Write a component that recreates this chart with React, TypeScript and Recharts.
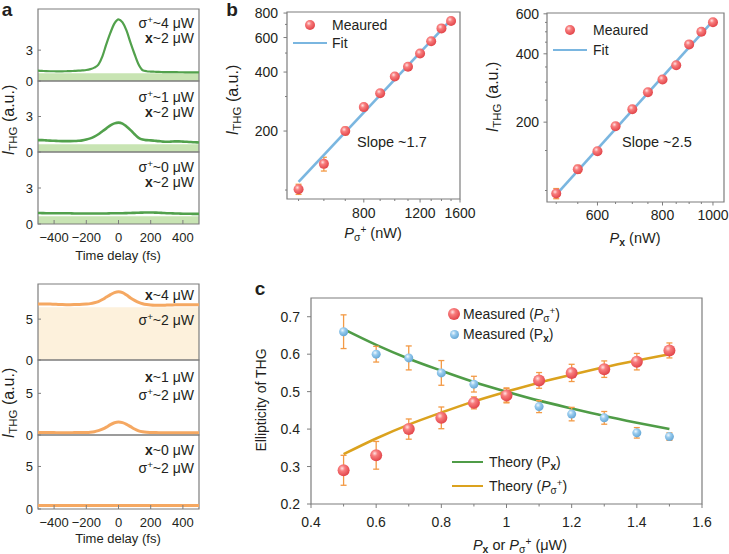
import React from 'react';
import { ComposedChart, LineChart, Line, Scatter, XAxis, YAxis, ReferenceArea, ErrorBar } from 'recharts';

const FONT = '"Liberation Sans", Arial, Helvetica, sans-serif';
const FRAME = '#7d7d7d';
const INK = '#231f20';
const GREEN = '#52a14c';
const GREEN_BAND = '#c8e4b3';
const ORANGE = '#f5a862';
const ORANGE_FILL = '#fdf1dc';
const FIT = '#7ab6e0';
const ERR = '#f39a45';
const TH_GREEN = '#4f9c47';
const TH_ORANGE = '#dba21e';

// ---- panel a: pump-probe traces ----
const timeDelay = [
  -500, -475, -450, -425, -400, -375, -350, -325, -300, -275, -250, -225, -200, -175, -150, -125, -100, -75, -50, -25,
  0, 25, 50, 75, 100, 125, 150, 175, 200, 225, 250, 275, 300, 325, 350, 375, 400, 425, 450, 475, 500,
];
const timeTicks = [-400, -200, 0, 200, 400];

// green: x ~2 uW, sigma+ varied
const traceSigma4 = [
  1.0, 0.98, 0.96, 0.95, 0.95, 0.94, 0.94, 0.95, 0.96, 0.98, 1.0, 1.03, 1.07, 1.15, 1.3, 1.6, 2.4, 3.6, 4.7, 5.6,
  6.0, 5.7, 4.9, 3.7, 2.6, 1.6, 1.05, 0.95, 0.92, 0.9, 0.88, 0.87, 0.86, 0.86, 0.86, 0.85, 0.85, 0.84, 0.84, 0.83, 0.83,
];
const traceSigma1 = [
  1.0, 1.0, 0.98, 0.96, 0.95, 0.93, 0.92, 0.92, 0.92, 0.93, 0.95, 0.98, 1.05, 1.15, 1.3, 1.5, 1.75, 2.0, 2.25, 2.42,
  2.48, 2.4, 2.15, 1.85, 1.5, 1.2, 1.05, 1.0, 0.98, 0.95, 0.92, 0.88, 0.86, 0.88, 0.9, 0.9, 0.88, 0.86, 0.84, 0.82, 0.8,
];
const traceSigma0 = [
  0.92, 0.91, 0.9, 0.9, 0.89, 0.89, 0.9, 0.9, 0.89, 0.88, 0.88, 0.88, 0.88, 0.87, 0.87, 0.88, 0.88, 0.88, 0.89, 0.9,
  0.9, 0.9, 0.91, 0.92, 0.93, 0.94, 0.95, 0.96, 0.96, 0.95, 0.94, 0.92, 0.9, 0.89, 0.88, 0.87, 0.86, 0.86, 0.85, 0.84, 0.84,
];
const greenBandTop = [0.75, 0.65, 0.65];

// orange: sigma+ ~2 uW, x varied
const traceX4 = [
  6.85, 6.85, 6.85, 6.84, 6.82, 6.8, 6.78, 6.77, 6.77, 6.78, 6.8, 6.82, 6.85, 6.9, 7.0, 7.15, 7.4, 7.7, 8.0, 8.25,
  8.35, 8.25, 7.95, 7.6, 7.3, 7.05, 6.88, 6.78, 6.72, 6.7, 6.7, 6.7, 6.72, 6.73, 6.75, 6.75, 6.75, 6.75, 6.75, 6.75, 6.75,
];
const traceX1 = [
  0.3, 0.3, 0.3, 0.29, 0.29, 0.28, 0.28, 0.28, 0.28, 0.29, 0.29, 0.3, 0.31, 0.34, 0.4, 0.52, 0.7, 0.95, 1.25, 1.47,
  1.55, 1.48, 1.28, 1.0, 0.72, 0.5, 0.38, 0.32, 0.3, 0.29, 0.28, 0.28, 0.28, 0.28, 0.28, 0.28, 0.28, 0.28, 0.28, 0.28, 0.28,
];
const traceX0 = [
  0.42, 0.42, 0.42, 0.42, 0.42, 0.41, 0.41, 0.41, 0.41, 0.41, 0.41, 0.41, 0.41, 0.41, 0.41, 0.42, 0.42, 0.42, 0.42, 0.42,
  0.42, 0.42, 0.42, 0.42, 0.42, 0.42, 0.41, 0.41, 0.41, 0.41, 0.41, 0.41, 0.41, 0.41, 0.41, 0.41, 0.41, 0.41, 0.41, 0.41, 0.41,
];
const orangeFillTop = 6.45;

// ---- panel b: power dependence ----
const powerSigma = [500, 600, 700, 800, 900, 1000, 1100, 1200, 1300, 1400, 1500];
const thgSigma = [101, 136, 200, 265, 312, 380, 426, 497, 574, 668, 728];
const thgSigmaErr = [6, 11, 9, 6, 6, 8, 8, 10, 10, 12, 12];
const fitSigmaX = [500, 1500];
const fitSigmaY = [110, 741];

const powerX = [500, 550, 600, 650, 700, 750, 800, 850, 900, 950, 1000];
const thgX = [97, 124, 149, 192, 228, 271, 308, 356, 440, 500, 551];
const thgXErr = [5, 5, 4, 6, 5, 5, 5, 6, 7, 8, 8];
const fitXX = [500, 1000];
const fitXY = [96, 558];

// ---- panel c: ellipticity ----
const ratio = [0.5, 0.6, 0.7, 0.8, 0.9, 1.0, 1.1, 1.2, 1.3, 1.4, 1.5];
const ellSigma = [0.29, 0.33, 0.4, 0.43, 0.47, 0.49, 0.53, 0.55, 0.56, 0.58, 0.61];
const ellSigmaErr = [0.04, 0.037, 0.027, 0.029, 0.016, 0.02, 0.021, 0.023, 0.022, 0.022, 0.02];
const ellX = [0.66, 0.6, 0.59, 0.55, 0.52, 0.49, 0.46, 0.44, 0.43, 0.39, 0.38];
const ellXErr = [0.045, 0.021, 0.032, 0.033, 0.021, 0.018, 0.016, 0.018, 0.017, 0.014, 0.01];
const theoryX = [0.667, 0.625, 0.588, 0.556, 0.526, 0.5, 0.476, 0.455, 0.435, 0.417, 0.4];
const theorySigma = [0.333, 0.375, 0.412, 0.444, 0.474, 0.5, 0.524, 0.545, 0.565, 0.583, 0.6];

const zip = (xs: number[], ys: number[], es?: number[]) =>
  xs.map((x, i) => (es ? { x, y: ys[i], e: es[i] } : { x, y: ys[i] }));

const isIn = (arr: number[], v: number) => arr.some((a) => Math.abs(a - v) < 1e-9);
const fmt = (v: number) => (v < 0 ? '\u2212' + Math.abs(v) : String(v));

type TickCfg = { labels: number[]; major: number; minor: number; inward?: boolean; size: number; off: number; show?: boolean };

const xTick = (c: TickCfg) => (props: any) => {
  const { x, y, payload } = props;
  const v = payload.value;
  const lab = isIn(c.labels, v);
  const len = lab ? c.major : c.minor;
  const d = c.inward ? -1 : 1;
  return (
    <g>
      {len > 0 && <line x1={x} x2={x} y1={y} y2={y + d * len} stroke={FRAME} strokeWidth={1} />}
      {lab && c.show !== false && (
        <text x={x} y={y + c.off} textAnchor="middle" fontSize={c.size} fontFamily={FONT} fill={INK}>
          {fmt(v)}
        </text>
      )}
    </g>
  );
};

const yTick = (c: TickCfg) => (props: any) => {
  const { x, y, payload } = props;
  const v = payload.value;
  const lab = isIn(c.labels, v);
  const len = lab ? c.major : c.minor;
  const d = c.inward ? 1 : -1;
  return (
    <g>
      {len > 0 && <line x1={x} x2={x + d * len} y1={y} y2={y} stroke={FRAME} strokeWidth={1} />}
      {lab && (
        <text x={x - c.off} y={y + c.size * 0.36} textAnchor="end" fontSize={c.size} fontFamily={FONT} fill={INK}>
          {fmt(v)}
        </text>
      )}
    </g>
  );
};

const ball = (id: string, r: number) => (props: any) => <circle cx={props.cx} cy={props.cy} r={r} fill={`url(#${id})`} />;

// ---- small html text helpers ----
const SUP: React.CSSProperties = { fontSize: '0.7em', verticalAlign: '0.5em', lineHeight: 0 };
const SUB: React.CSSProperties = { fontSize: '0.72em', verticalAlign: '-0.3em', lineHeight: 0 };

function T(p: { x: number; y: number; a?: 'l' | 'c' | 'r'; r?: number; size?: number; bold?: boolean; children: React.ReactNode }) {
  const tx = p.a === 'l' ? '0' : p.a === 'r' ? '-100%' : '-50%';
  return (
    <div
      style={{
        position: 'absolute',
        left: p.x,
        top: p.y,
        transform: `translate(${tx},-50%)${p.r ? ` rotate(${p.r}deg)` : ''}`,
        fontSize: p.size ?? 14,
        fontWeight: p.bold ? 'bold' : 'normal',
        whiteSpace: 'nowrap',
        lineHeight: 1,
      }}
    >
      {p.children}
    </div>
  );
}

const Ithg = () => (
  <>
    <i>I</i>
    <span style={SUB}>THG</span> (a.u.)
  </>
);
const Psig = () => (
  <>
    <i>P</i>
    <span style={SUB}>σ</span>
    <span style={SUP}>+</span>
  </>
);
const Px = ({ italic }: { italic?: boolean }) => (
  <>
    {italic ? <i>P</i> : 'P'}
    <span style={SUB}>
      <b>x</b>
    </span>
  </>
);

function Ball({ x, y, r, id }: { x: number; y: number; r: number; id: string }) {
  return (
    <svg width={2 * r + 2} height={2 * r + 2} style={{ position: 'absolute', left: x - r - 1, top: y - r - 1 }}>
      <circle cx={r + 1} cy={r + 1} r={r} fill={`url(#${id})`} />
    </svg>
  );
}
function Swatch({ x1, x2, y, color, w = 3 }: { x1: number; x2: number; y: number; color: string; w?: number }) {
  return <div style={{ position: 'absolute', left: x1, top: y - w / 2, width: x2 - x1, height: w, background: color }} />;
}

// ---- panel a cell ----
const A_LEFT = 38;
const A_W = 161;
const A_YW = 38;

function TraceCell(p: {
  top: number;
  bottom: number;
  values: number[];
  yMax: number;
  yLabels: number[];
  color: string;
  width: number;
  fillTop?: number;
  fillColor?: string;
  showX: boolean;
}) {
  const rows = timeDelay.map((t, i) => ({ t, v: p.values[i] }));
  const h = p.bottom - p.top;
  const mt = 8;
  const xh = p.showX ? 26 : 0;
  const mb = p.showX ? 0 : 8;
  return (
    <div style={{ position: 'absolute', left: A_LEFT - A_YW, top: p.top - mt }}>
      <LineChart width={A_YW + A_W + 6} height={mt + h + xh + mb} data={rows} margin={{ top: mt, right: 6, bottom: mb, left: 0 }}>
        <XAxis
          dataKey="t"
          type="number"
          domain={[-500, 500]}
          allowDataOverflow
          ticks={timeTicks}
          interval={0}
          height={xh}
          tickSize={0}
          tickMargin={0}
          axisLine={false}
          tickLine={false}
          tick={xTick({ labels: timeTicks, major: 4, minor: 0, inward: true, size: 13, off: 18, show: p.showX })}
        />
        <YAxis
          type="number"
          domain={[0, p.yMax]}
          allowDataOverflow
          ticks={p.yLabels}
          interval={0}
          width={A_YW}
          tickSize={0}
          tickMargin={0}
          axisLine={false}
          tickLine={false}
          tick={yTick({ labels: p.yLabels, major: 3, minor: 0, inward: true, size: 13, off: 5 })}
        />
        {p.fillTop !== undefined && (
          <ReferenceArea x1={-500} x2={500} y1={0} y2={p.fillTop} fill={p.fillColor} fillOpacity={1} stroke="none" />
        )}
        <Line dataKey="v" type="monotone" stroke={p.color} strokeWidth={p.width} dot={false} isAnimationActive={false} />
        <ReferenceArea x1={-500} x2={500} y1={0} y2={p.yMax} fill="none" stroke={FRAME} strokeWidth={1.2} />
      </LineChart>
    </div>
  );
}

// ---- panel b chart ----
function PowerPanel(p: {
  left: number;
  top: number;
  w: number;
  h: number;
  xDomain: [number, number];
  yDomain: [number, number];
  xTicks: number[];
  xLabels: number[];
  yTicks: number[];
  yLabels: number[];
  points: { x: number; y: number; e?: number }[];
  fit: { x: number; y: number }[];
  yOff: number;
  xOff: number;
}) {
  const YW = 50;
  const XH = 30;
  const MT = 8;
  const MR = 20;
  return (
    <div style={{ position: 'absolute', left: p.left - YW, top: p.top - MT }}>
      <ComposedChart width={YW + p.w + MR} height={MT + p.h + XH} margin={{ top: MT, right: MR, bottom: 0, left: 0 }}>
        <XAxis
          dataKey="x"
          type="number"
          scale="log"
          domain={p.xDomain}
          allowDataOverflow
          ticks={p.xTicks}
          interval={0}
          height={XH}
          tickSize={0}
          tickMargin={0}
          axisLine={false}
          tickLine={false}
          tick={xTick({ labels: p.xLabels, major: 3.5, minor: 2, size: 14, off: p.xOff })}
        />
        <YAxis
          dataKey="y"
          type="number"
          scale="log"
          domain={p.yDomain}
          allowDataOverflow
          ticks={p.yTicks}
          interval={0}
          width={YW}
          tickSize={0}
          tickMargin={0}
          axisLine={false}
          tickLine={false}
          tick={yTick({ labels: p.yLabels, major: 3.5, minor: 2, size: 14, off: p.yOff })}
        />
        <Scatter data={p.points} shape={ball('ballRed', 5)} isAnimationActive={false}>
          <ErrorBar dataKey="e" direction="y" width={3} stroke={ERR} strokeWidth={1.3} isAnimationActive={false} />
        </Scatter>
        <Line data={p.fit} dataKey="y" type="linear" stroke={FIT} strokeWidth={2.6} dot={false} isAnimationActive={false} />
        <ReferenceArea
          x1={p.xDomain[0]}
          x2={p.xDomain[1]}
          y1={p.yDomain[0]}
          y2={p.yDomain[1]}
          fill="none"
          stroke={FRAME}
          strokeWidth={1.2}
        />
      </ComposedChart>
    </div>
  );
}

// ---- panel c chart ----
const C_LEFT = 311;
const C_TOP = 298;
const C_W = 391;
const C_H = 206;
const cXTicks = [0.4, 0.5, 0.6, 0.7, 0.8, 0.9, 1, 1.1, 1.2, 1.3, 1.4, 1.5, 1.6];
const cXLabels = [0.4, 0.6, 0.8, 1, 1.2, 1.4, 1.6];
const cYTicks = [0.2, 0.3, 0.4, 0.5, 0.6, 0.7];

function EllipticityPanel() {
  const YW = 50;
  const XH = 30;
  const MT = 8;
  const MR = 20;
  return (
    <div style={{ position: 'absolute', left: C_LEFT - YW, top: C_TOP - MT }}>
      <ComposedChart width={YW + C_W + MR} height={MT + C_H + XH} margin={{ top: MT, right: MR, bottom: 0, left: 0 }}>
        <XAxis
          dataKey="x"
          type="number"
          domain={[0.4, 1.6]}
          allowDataOverflow
          ticks={cXTicks}
          interval={0}
          height={XH}
          tickSize={0}
          tickMargin={0}
          axisLine={false}
          tickLine={false}
          tick={xTick({ labels: cXLabels, major: 4, minor: 2.5, size: 14, off: 23 })}
        />
        <YAxis
          dataKey="y"
          type="number"
          domain={[0.2, 0.75]}
          allowDataOverflow
          ticks={cYTicks}
          interval={0}
          width={YW}
          tickSize={0}
          tickMargin={0}
          axisLine={false}
          tickLine={false}
          tick={yTick({ labels: cYTicks, major: 4, minor: 2.5, size: 14, off: 11 })}
        />
        <Line data={zip(ratio, theoryX)} dataKey="y" type="monotone" stroke={TH_GREEN} strokeWidth={2.6} dot={false} isAnimationActive={false} />
        <Line data={zip(ratio, theorySigma)} dataKey="y" type="monotone" stroke={TH_ORANGE} strokeWidth={2.6} dot={false} isAnimationActive={false} />
        <Scatter data={zip(ratio, ellX, ellXErr)} shape={ball('ballBlue', 4.5)} isAnimationActive={false}>
          <ErrorBar dataKey="e" direction="y" width={3} stroke={ERR} strokeWidth={1.3} isAnimationActive={false} />
        </Scatter>
        <Scatter data={zip(ratio, ellSigma, ellSigmaErr)} shape={ball('ballRed', 6)} isAnimationActive={false}>
          <ErrorBar dataKey="e" direction="y" width={3} stroke={ERR} strokeWidth={1.3} isAnimationActive={false} />
        </Scatter>
        <ReferenceArea x1={0.4} x2={1.6} y1={0.2} y2={0.75} fill="none" stroke={FRAME} strokeWidth={1.2} />
      </ComposedChart>
    </div>
  );
}

export default function App() {
  const gRows = [9, 81, 152, 224];
  const oRows = [284, 360, 435, 509];
  return (
    <div
      style={{
        position: 'absolute',
        left: 0,
        top: 0,
        width: 729,
        height: 554,
        background: '#fff',
        fontFamily: FONT,
        color: INK,
        overflow: 'hidden',
      }}
    >
      <svg width={0} height={0} style={{ position: 'absolute' }}>
        <defs>
          <radialGradient id="ballRed" cx="38%" cy="34%" r="66%">
            <stop offset="0%" stopColor="#ffe3e3" />
            <stop offset="35%" stopColor="#f87d7d" />
            <stop offset="100%" stopColor="#e2454a" />
          </radialGradient>
          <radialGradient id="ballBlue" cx="38%" cy="34%" r="66%">
            <stop offset="0%" stopColor="#f0f8fe" />
            <stop offset="40%" stopColor="#98cbee" />
            <stop offset="100%" stopColor="#67a8d6" />
          </radialGradient>
        </defs>
      </svg>

      {/* panel a, green */}
      <TraceCell top={gRows[0]} bottom={gRows[1]} values={traceSigma4} yMax={7} yLabels={[0, 3]} color={GREEN} width={2.2} fillTop={greenBandTop[0]} fillColor={GREEN_BAND} showX={false} />
      <TraceCell top={gRows[1]} bottom={gRows[2]} values={traceSigma1} yMax={6} yLabels={[0, 3]} color={GREEN} width={2.6} fillTop={greenBandTop[1]} fillColor={GREEN_BAND} showX={false} />
      <TraceCell top={gRows[2]} bottom={gRows[3]} values={traceSigma0} yMax={6} yLabels={[0, 3]} color={GREEN} width={2.6} fillTop={greenBandTop[2]} fillColor={GREEN_BAND} showX />

      {/* panel a, orange */}
      <TraceCell top={oRows[0]} bottom={oRows[1]} values={traceX4} yMax={9.3} yLabels={[0, 5]} color={ORANGE} width={3} fillTop={orangeFillTop} fillColor={ORANGE_FILL} showX={false} />
      <TraceCell top={oRows[1]} bottom={oRows[2]} values={traceX1} yMax={9} yLabels={[0, 5]} color={ORANGE} width={3} showX={false} />
      <TraceCell top={oRows[2]} bottom={oRows[3]} values={traceX0} yMax={8.7} yLabels={[0, 5]} color={ORANGE} width={3} showX />

      {/* panel b */}
      <PowerPanel
        left={287}
        top={12}
        w={173}
        h={187}
        xDomain={[460, 1600]}
        yDomain={[90, 810]}
        xTicks={[500, 600, 700, 800, 900, 1000, 1100, 1200, 1300, 1400, 1500, 1600]}
        xLabels={[800, 1200, 1600]}
        yTicks={[100, 200, 300, 400, 500, 600, 700, 800]}
        yLabels={[200, 400, 600, 800]}
        points={zip(powerSigma, thgSigma, thgSigmaErr)}
        fit={zip(fitSigmaX, fitSigmaY)}
        yOff={9}
        xOff={19}
      />
      <PowerPanel
        left={547}
        top={13}
        w={177}
        h={189}
        xDomain={[480, 1050]}
        yDomain={[89, 605]}
        xTicks={[500, 550, 600, 650, 700, 750, 800, 850, 900, 950, 1000]}
        xLabels={[600, 800, 1000]}
        yTicks={[100, 150, 200, 250, 300, 350, 400, 450, 500, 550, 600]}
        yLabels={[200, 400, 600]}
        points={zip(powerX, thgX, thgXErr)}
        fit={zip(fitXX, fitXY)}
        yOff={8}
        xOff={18}
      />

      {/* panel c */}
      <EllipticityPanel />

      {/* panel letters */}
      <T x={7} y={9} size={19} bold>a</T>
      <T x={232} y={9} size={19} bold>b</T>
      <T x={260} y={288} size={19} bold>c</T>

      {/* panel a annotations */}
      <T x={194} y={23} a="r"><>σ<span style={SUP}>+</span>~4 μW</></T>
      <T x={194} y={38} a="r"><><b>x</b>~2 μW</></T>
      <T x={194} y={97} a="r"><>σ<span style={SUP}>+</span>~1 μW</></T>
      <T x={194} y={112} a="r"><><b>x</b>~2 μW</></T>
      <T x={194} y={167} a="r"><>σ<span style={SUP}>+</span>~0 μW</></T>
      <T x={194} y={182} a="r"><><b>x</b>~2 μW</></T>

      <T x={194} y={295} a="r"><><b>x</b>~4 μW</></T>
      <T x={194} y={320} a="r"><>σ<span style={SUP}>+</span>~2 μW</></T>
      <T x={194} y={377} a="r"><><b>x</b>~1 μW</></T>
      <T x={194} y={395} a="r"><>σ<span style={SUP}>+</span>~2 μW</></T>
      <T x={194} y={450} a="r"><><b>x</b>~0 μW</></T>
      <T x={194} y={468} a="r"><>σ<span style={SUP}>+</span>~2 μW</></T>

      <T x={9} y={120} r={-90} size={16}><Ithg /></T>
      <T x={118} y={255} size={13}>Time delay (fs)</T>
      <T x={9} y={403} r={-90} size={16}><Ithg /></T>
      <T x={118} y={538} size={13}>Time delay (fs)</T>

      {/* panel b labels and legends */}
      <T x={233} y={100} r={-90} size={16}><Ithg /></T>
      <T x={373} y={233} size={14.5}><><Psig /> (nW)</></T>
      <Ball x={310} y={25} r={5} id="ballRed" />
      <T x={332} y={25} a="l">Meaured</T>
      <Swatch x1={293} x2={327} y={43} color={FIT} w={2.6} />
      <T x={332} y={43} a="l">Fit</T>
      <T x={357} y={142} a="l" size={14.5}>Slope ~1.7</T>

      <T x={493} y={97} r={-90} size={16}><Ithg /></T>
      <T x={635} y={238} size={14.5}><><Px italic /> (nW)</></T>
      <Ball x={570} y={30} r={5} id="ballRed" />
      <T x={593} y={30} a="l">Meaured</T>
      <Swatch x1={553} x2={587} y={50} color={FIT} w={2.6} />
      <T x={593} y={50} a="l">Fit</T>
      <T x={622} y={142} a="l" size={14.5}>Slope ~2.5</T>

      {/* panel c labels and legend */}
      <T x={261} y={400} r={-90} size={14}>Ellipticity of THG</T>
      <T x={520} y={545} size={14.5}><><Px italic /> or <Psig /> (μW)</></T>
      <Ball x={454} y={314} r={6} id="ballRed" />
      <T x={463} y={314} a="l"><>Measured (<Psig />)</></T>
      <Ball x={454} y={334} r={4.5} id="ballBlue" />
      <T x={463} y={334} a="l"><>Measured (<Px />)</></T>
      <Swatch x1={452} x2={483} y={462} color={TH_GREEN} w={2.8} />
      <T x={489} y={462} a="l"><>Theory (<Px />)</></T>
      <Swatch x1={452} x2={483} y={486} color={TH_ORANGE} w={2.8} />
      <T x={489} y={486} a="l"><>Theory (<Psig />)</></T>
    </div>
  );
}
